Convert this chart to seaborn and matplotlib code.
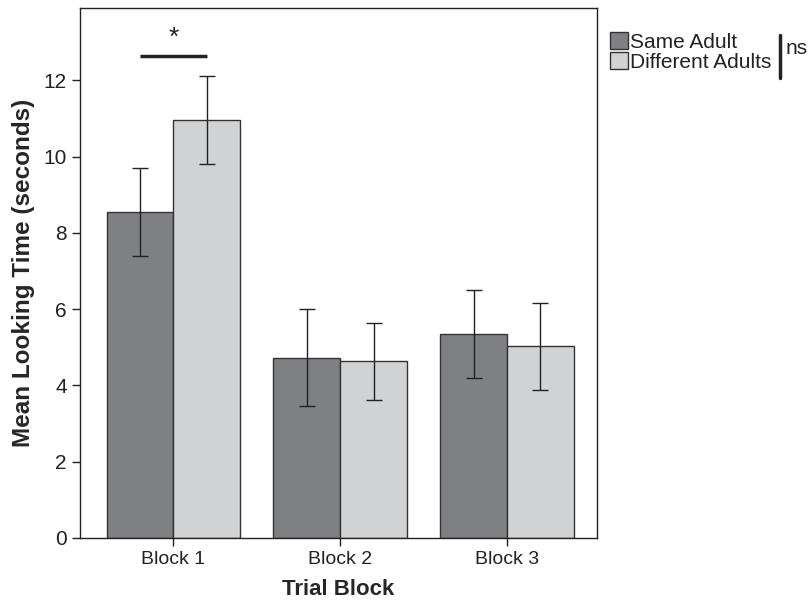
import numpy as np
import pandas as pd
import matplotlib
matplotlib.use("Agg")
import matplotlib.pyplot as plt
import seaborn as sns
from matplotlib.patches import Patch
from matplotlib.lines import Line2D

blocks = ["Block 1", "Block 2", "Block 3"]
conditions = ["Same Adult", "Different Adults"]
same_mean = [8.55, 4.72, 5.35]
diff_mean = [10.95, 4.63, 5.02]
same_err = [1.15, 1.27, 1.15]
diff_err = [1.15, 1.01, 1.15]

df = pd.DataFrame({
    "block": blocks * 2,
    "condition": [conditions[0]] * 3 + [conditions[1]] * 3,
    "mean": same_mean + diff_mean,
    "err": same_err + diff_err,
})

colors = ["#7f8084", "#d1d2d4"]
edge = "#333333"

sns.set_style("ticks")
plt.rcParams["font.family"] = ["Liberation Sans", "DejaVu Sans"]

fig = plt.figure(figsize=(8.08, 6.01), dpi=100)
ax = fig.add_axes([0.099, 0.105, 0.64, 0.882])

sns.barplot(data=df, x="block", y="mean", hue="condition", hue_order=conditions,
            palette=colors, errorbar=None, width=0.8, edgecolor=edge,
            linewidth=1.0, saturation=1, legend=False, ax=ax)

# error bars at the bar centres (patches ordered by hue, then block)
bars = ax.patches[:len(df)]
xs = [b.get_x() + b.get_width() / 2 for b in bars]
ys = [b.get_height() for b in bars]
ax.errorbar(xs, ys, yerr=df["err"].values, fmt="none", ecolor="#222222",
            elinewidth=1.0, capsize=6, capthick=1.0)

# significance marker on block 1
ax.plot([xs[0], xs[3]], [12.63, 12.63], color="#222222", lw=2.5,
        solid_capstyle="butt")
ax.text((xs[0] + xs[3]) / 2, 12.8, "*", ha="center", va="bottom",
        fontsize=19, color="#222222")

ax.set_xlim(-0.56, 2.54)
ax.set_ylim(0, 13.9)
ax.set_yticks([0, 2, 4, 6, 8, 10, 12])
ax.set_xlabel("Trial Block", fontsize=16, fontweight="bold", labelpad=8)
ax.set_ylabel("Mean Looking Time (seconds)", fontsize=17.5, fontweight="bold",
              labelpad=6)
ax.tick_params(axis="both", length=6, width=1, color="#222222",
               labelcolor="#222222")
ax.tick_params(axis="x", labelsize=14)
ax.tick_params(axis="y", labelsize=15)
for s in ax.spines.values():
    s.set_visible(True)
    s.set_color("#222222")
    s.set_linewidth(1)

handles = [Patch(facecolor=c, edgecolor=edge, linewidth=1) for c in colors]
leg = fig.legend(handles, conditions, loc="upper left",
                 bbox_to_anchor=(0.755, 0.946), frameon=False, fontsize=15,
                 handlelength=0.88, handleheight=0.88, handletextpad=0.08,
                 labelspacing=0.0, borderpad=0, borderaxespad=0)
for t in leg.get_texts():
    t.set_color("#222222")

fig.add_artist(Line2D([780 / 808, 780 / 808], [1 - 35 / 601, 1 - 78 / 601],
                      transform=fig.transFigure, color="#222222", lw=2.5))
fig.text(786 / 808, 1 - 49 / 601, "ns", fontsize=15, va="center", ha="left",
         color="#222222")

fig.savefig("out.png", dpi=100)
